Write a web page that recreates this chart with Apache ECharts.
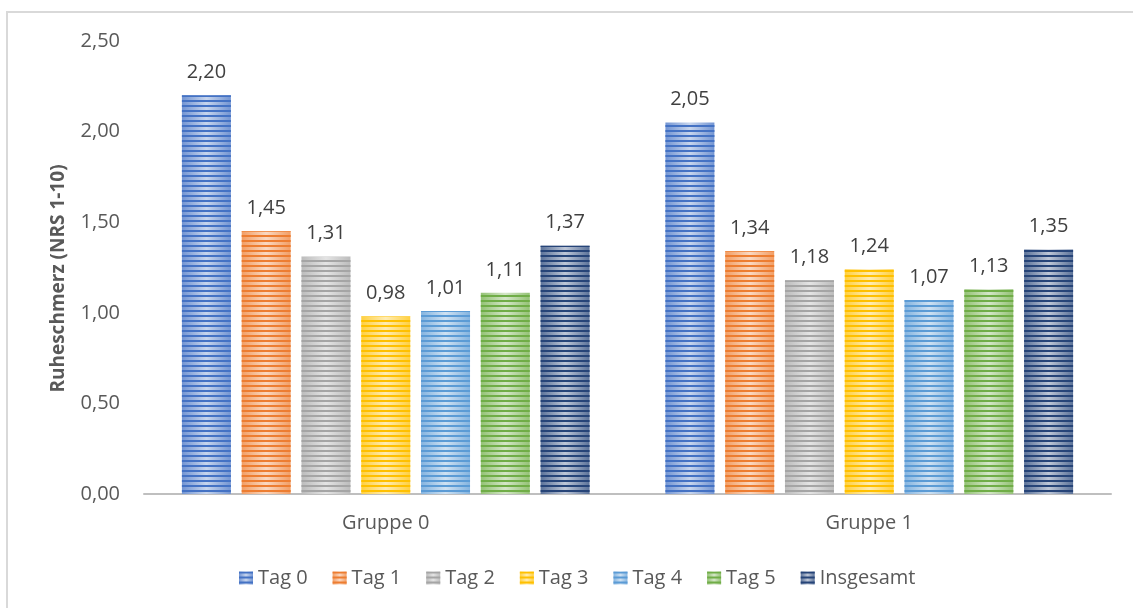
<!DOCTYPE html>
<html>
<head>
<meta charset="utf-8">
<script src="https://cdn.jsdelivr.net/npm/echarts@6/dist/echarts.min.js"></script>
<style>
  html, body { margin: 0; padding: 0; background: #fff; }
  #chart { width: 1133px; height: 608px; }
</style>
</head>
<body>
<div id="chart"></div>
<script>
// Resting pain (NRS 1-10) by group and day
const categories = ['Gruppe 0', 'Gruppe 1'];
const seriesNames = ['Tag 0', 'Tag 1', 'Tag 2', 'Tag 3', 'Tag 4', 'Tag 5', 'Insgesamt'];
const tag0 = [2.20, 2.05];
const tag1 = [1.45, 1.34];
const tag2 = [1.31, 1.18];
const tag3 = [0.98, 1.24];
const tag4 = [1.01, 1.07];
const tag5 = [1.11, 1.13];
const insgesamt = [1.37, 1.35];
const yTicks = [0, 0.5, 1.0, 1.5, 2.0, 2.5];

const seriesValues = [tag0, tag1, tag2, tag3, tag4, tag5, insgesamt];
const palette = ['#4472C4', '#ED7D31', '#A5A5A5', '#FFC000', '#5B9BD5', '#70AD47', '#264478'];

function fmt(v) { return v.toFixed(2).replace('.', ','); }

function mix(hex, t) {
  const n = parseInt(hex.slice(1), 16);
  const r = (n >> 16) & 255, g = (n >> 8) & 255, b = n & 255;
  const m = c => Math.round(c + (255 - c) * t);
  return 'rgb(' + m(r) + ',' + m(g) + ',' + m(b) + ')';
}

const chart = echarts.init(document.getElementById('chart'), null, { renderer: 'canvas' });

const series = seriesNames.map((name, i) => ({
  name: name,
  type: 'bar',
  data: seriesValues[i],
  barWidth: 49,
  barGap: '22%',
  itemStyle: {
    color: {
      type: 'linear', x: 0, y: 0, x2: 1, y2: 0,
      colorStops: [
        { offset: 0, color: mix(palette[i], 0.25) },
        { offset: 0.5, color: mix(palette[i], 0.7) },
        { offset: 1, color: mix(palette[i], 0.25) }
      ]
    },
    decal: {
      symbol: 'rect',
      symbolSize: 1,
      color: palette[i],
      dashArrayX: [1, 0],
      dashArrayY: [2, 3],
      rotation: 0
    }
  },
  label: {
    show: true,
    position: 'top',
    distance: 13,
    fontFamily: 'Open Sans',
    fontSize: 20,
    color: '#404040',
    formatter: p => fmt(p.value)
  }
}));

chart.setOption({
  animation: false,
  backgroundColor: '#fff',
  color: palette,
  textStyle: { fontFamily: 'Open Sans' },
  graphic: [{
    type: 'rect',
    shape: { x: 7, y: 12, width: 1200, height: 700 },
    style: { fill: 'none', stroke: '#d9d9d9', lineWidth: 2 },
    silent: true,
    z: -1
  }],
  grid: { left: 144, right: 22, top: 41, bottom: 114, containLabel: false },
  legend: {
    data: seriesNames,
    bottom: 15,
    left: 234,
    itemWidth: 14,
    itemHeight: 13,
    itemGap: 25,
    icon: 'rect',
    textStyle: { fontFamily: 'Open Sans', fontSize: 20, color: '#595959', padding: [0, 0, 0, 0] }
  },
  xAxis: {
    type: 'category',
    data: categories,
    axisLine: { lineStyle: { color: '#bfbfbf', width: 2 } },
    axisTick: { show: false },
    axisLabel: { fontFamily: 'Open Sans', fontSize: 20, color: '#595959', margin: 19 }
  },
  yAxis: {
    type: 'value',
    min: yTicks[0],
    max: yTicks[yTicks.length - 1],
    interval: 0.5,
    name: 'Ruheschmerz (NRS 1-10)',
    nameLocation: 'middle',
    nameGap: 76,
    nameRotate: 90,
    nameTextStyle: { fontFamily: 'Open Sans', fontSize: 19, fontWeight: 'bold', color: '#595959', padding: [0, 22, 0, 0] },
    axisLine: { show: false },
    axisTick: { show: false },
    splitLine: { show: false },
    axisLabel: { fontFamily: 'Open Sans', fontSize: 20, color: '#595959', margin: 24, formatter: v => fmt(v) }
  },
  series: series
});
</script>
</body>
</html>
